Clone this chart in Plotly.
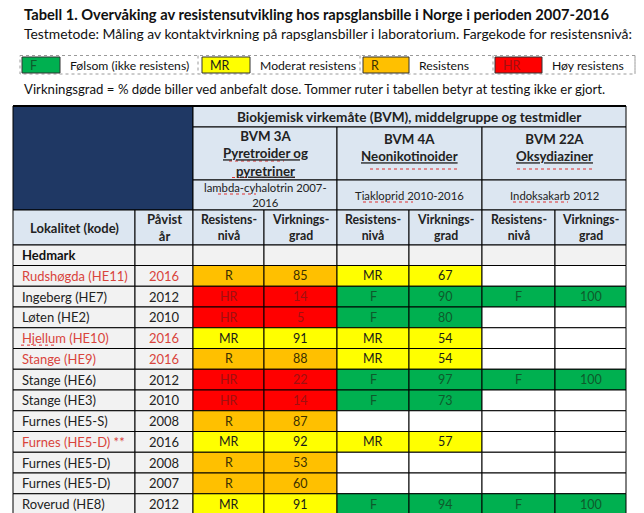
import plotly.graph_objects as go

# ---------------- data ----------------
localities = ["Rudshøgda (HE11)", "Ingeberg (HE7)", "Løten (HE2)", "Hjellum (HE10)",
              "Stange (HE9)", "Stange (HE6)", "Stange (HE3)", "Furnes (HE5-S)",
              "Furnes (HE5-D) **", "Furnes (HE5-D)", "Furnes (HE5-D)", "Roverud (HE8)"]
years = [2016, 2012, 2010, 2016, 2016, 2012, 2010, 2008, 2016, 2008, 2007, 2012]
new_site = [True, False, False, True, True, False, False, False, True, False, False, False]
year_red = [True, False, False, True, True, False, False, False, False, False, False, False]
lvl_3a = ["R", "HR", "HR", "MR", "R", "HR", "HR", "R", "MR", "R", "R", "MR"]
eff_3a = [85, 14, 5, 91, 88, 22, 14, 87, 92, 53, 60, 91]
lvl_4a = ["MR", "F", "F", "MR", "MR", "F", "F", None, "MR", None, None, "F"]
eff_4a = [67, 90, 80, 54, 54, 97, 73, None, 57, None, None, 94]
lvl_22a = [None, "F", None, None, None, "F", None, None, None, None, None, "F"]
eff_22a = [None, 100, None, None, None, 100, None, None, None, None, None, 100]
region = "Hedmark"

legend_codes = ["F", "MR", "R", "HR"]
legend_labels = ["Følsom (ikke resistens)", "Moderat resistens", "Resistens", "Høy resistens"]

title = "Tabell 1. Overvåking av resistensutvikling hos rapsglansbille i Norge i perioden 2007-2016"
subtitle = "Testmetode: Måling av kontaktvirkning på rapsglansbiller i laboratorium. Fargekode for resistensnivå:"
note = "Virkningsgrad = % døde biller ved anbefalt dose. Tommer ruter i tabellen betyr at testing ikke er gjort."
group_header = "Biokjemisk virkemåte (BVM), middelgruppe og testmidler"
bvm_headers = ["BVM 3A<br><u>Pyretroider og</u><br><u>pyretriner</u>",
               "BVM 4A<br><u>Neonikotinoider</u>",
               "BVM 22A<br><u>Oksydiaziner</u>"]
agent_headers = ["lambda-cyhalotrin 2007-<br>2016", "Tiakloprid 2010-2016", "Indoksakarb 2012"]
col_headers = ["Lokalitet (kode)", "Påvist<br>år", "Resistens-<br>nivå", "Virknings-<br>grad",
               "Resistens-<br>nivå", "Virknings-<br>grad", "Resistens-<br>nivå", "Virknings-<br>grad"]

# ---------------- styles ----------------
FONT = "Lato"
fill_of = {"F": "#00b050", "MR": "#ffff00", "R": "#ffc000", "HR": "#ff0000"}
txt_of = {"F": "#0e5a2c", "MR": "#1a1a1a", "R": "#3b3000", "HR": "#a01010"}
HDR = "#dce6f1"
NAVY = "#1f3864"
GRAY = "#f2f2f2"
REDTXT = "#d9443c"
DARK = "#222222"

W, H = 644, 513
xe = [13, 135, 193, 264, 337, 409, 482, 555, 626]
yh = [106, 127, 180, 210, 245]
row0 = 245
row_h0 = 20.5
row_h = 20.75

shapes = []
ann = []


def rect(x0, y0, x1, y1, fill, line="#000000", lw=1, dash=None):
    d = dict(type="rect", xref="x", yref="y", x0=x0, y0=y0, x1=x1, y1=y1,
             fillcolor=fill, line=dict(color=line, width=lw), layer="above")
    if dash:
        d["line"]["dash"] = dash
    shapes.append(d)


def hline(x0, x1, y, color, lw=1, dash=None):
    d = dict(type="line", xref="x", yref="y", x0=x0, x1=x1, y0=y, y1=y,
             line=dict(color=color, width=lw), layer="above")
    if dash:
        d["line"]["dash"] = dash
    shapes.append(d)


def text(x, y, s, size=13, color=DARK, bold=False, xanchor="center"):
    if bold:
        s = "<b>" + s + "</b>"
    ann.append(dict(x=x, y=y, xref="x", yref="y", text=s, showarrow=False,
                    xanchor=xanchor, yanchor="middle",
                    font=dict(family=FONT, size=size, color=color)))


# title block
text(22, 14, title, size=14.7, color="#111111", bold=True, xanchor="left")
text(22, 33, subtitle, size=13.9, color="#111111", xanchor="left")

# legend
leg_box = [(22, 60), (202, 250), (363, 409), (495, 542)]
leg_lab_end = [198, 360, 493, 635]
rect(20, 55.5, 635, 74, "rgba(0,0,0,0)", line="#9a9a9a", lw=1, dash="dot")
for i, code in enumerate(legend_codes):
    bx0, bx1 = leg_box[i]
    rect(bx0, 57, bx1, 73, fill_of[code], line="#333333", lw=1)
    text(bx0 + 6, 65, code, size=12.5, color=txt_of[code], xanchor="left")
    text(bx1 + 8, 65, legend_labels[i], size=12.2, color="#111111", xanchor="left")
    shapes.append(dict(type="line", xref="x", yref="y", x0=leg_lab_end[i], x1=leg_lab_end[i],
                       y0=55.5, y1=74, line=dict(color="#9a9a9a", width=1, dash="dot")))
text(22, 89, note, size=13.2, color="#111111", xanchor="left")

# header
rect(xe[0], yh[0], xe[2], yh[3], NAVY)
rect(xe[2], yh[0], xe[8], yh[1], HDR)
text((xe[2] + xe[8]) / 2, (yh[0] + yh[1]) / 2, group_header, size=13.6, bold=True)
for g in range(3):
    x0, x1 = xe[2 + 2 * g], xe[4 + 2 * g]
    rect(x0, yh[1], x1, yh[2], HDR)
    yc = (yh[1] + yh[2]) / 2 if g == 0 else yh[1] + 20
    text((x0 + x1) / 2, yc, bvm_headers[g], size=13.3, bold=True)
    rect(x0, yh[2], x1, yh[3], HDR)
    text((x0 + x1) / 2, (yh[2] + yh[3]) / 2, agent_headers[g], size=11.3)
for c in range(8):
    rect(xe[c], yh[3], xe[c + 1], yh[4], HDR)
    text((xe[c] + xe[c + 1]) / 2, (yh[3] + yh[4]) / 2, col_headers[c],
         size=13 if c < 2 else 12.3, bold=True)

# spell-check style wavy marks under some words
for (a, b, y) in [(229, 284, 161), (232, 295, 177.5), (218, 256, 194), (370, 457, 169),
                  (517, 593, 169), (363, 413, 202), (513, 568, 202)]:
    hline(a, b, y, "#e03030", lw=1, dash="dot")

# region row
for c in range(8):
    rect(xe[c], row0, xe[c + 1], row0 + row_h0, GRAY)
text(xe[0] + 7, row0 + row_h0 / 2, region, size=13, bold=True, color="#111111", xanchor="left")

# data rows
for i in range(len(localities)):
    y0 = row0 + row_h0 + i * row_h
    y1 = y0 + row_h
    yc = (y0 + y1) / 2
    rect(xe[0], y0, xe[1], y1, GRAY)
    text(xe[0] + 7, yc, localities[i], size=13, color=REDTXT if new_site[i] else "#222222",
         xanchor="left")
    rect(xe[1], y0, xe[2], y1, GRAY)
    text((xe[1] + xe[2]) / 2, yc, str(years[i]), size=13,
         color=REDTXT if year_red[i] else "#222222")
    for g, (lv, ef) in enumerate([(lvl_3a[i], eff_3a[i]), (lvl_4a[i], eff_4a[i]),
                                  (lvl_22a[i], eff_22a[i])]):
        xa, xb, xc = xe[2 + 2 * g], xe[3 + 2 * g], xe[4 + 2 * g]
        fill = fill_of[lv] if lv else "#ffffff"
        rect(xa, y0, xb, y1, fill)
        rect(xb, y0, xc, y1, fill)
        if lv:
            text((xa + xb) / 2, yc, lv, size=12.5, color=txt_of[lv])
            text((xb + xc) / 2, yc, str(ef), size=12.5, color=txt_of[lv])
    if localities[i].startswith("Hjellum"):
        hline(xe[0] + 8, xe[0] + 42, yc + 7, "#e03030", lw=1, dash="dot")

# thick top border of table
hline(xe[0], xe[8], yh[0], "#000000", lw=2)

fig = go.Figure()
fig.add_trace(go.Scatter(x=[0, W], y=[0, H], mode="markers", marker=dict(opacity=0),
                         hoverinfo="skip", showlegend=False))
fig.update_layout(
    width=W, height=H, margin=dict(l=0, r=0, t=0, b=0),
    paper_bgcolor="white", plot_bgcolor="white",
    xaxis=dict(range=[0, W], visible=False, fixedrange=True),
    yaxis=dict(range=[H, 0], visible=False, fixedrange=True),
    shapes=shapes, annotations=ann, showlegend=False,
)
fig.write_html("out.html", config={"displayModeBar": False},
               post_script="document.body.style.margin='0';document.body.style.overflow='hidden';")
